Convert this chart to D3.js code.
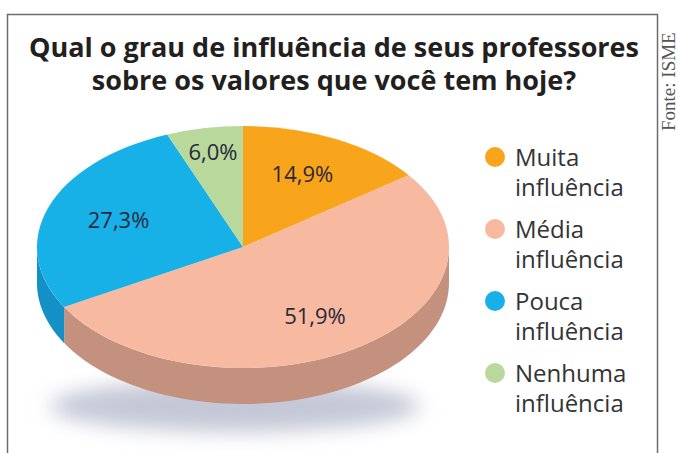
<!DOCTYPE html>
<html lang="pt">
<head>
    <meta charset="UTF-8">
    <title>Influência dos professores</title>
    <script src="https://cdn.jsdelivr.net/npm/d3@7"></script>
    <style>
        body { margin: 0; background: #fff; }
    </style>
</head>
<body>
<script>
    // dados
    const categorias = ['Muita influência', 'Média influência', 'Pouca influência', 'Nenhuma influência'];
    const valores = [14.9, 51.9, 27.3, 6.0];
    const coresTopo = ['#f9a51c', '#f8b9a1', '#17b1e8', '#b8d89c'];
    const coresLado = ['#d98c10', '#c4917f', '#1590c6', '#95b57c'];
    const titulo = ['Qual o grau de influência de seus professores', 'sobre os valores que você tem hoje?'];
    const fonte = 'Fonte: ISME';

    const width = 678, height = 453;
    const cx = 243, cy = 247, rx = 206, ry = 121, depth = 36;

    const ptBR = d3.formatLocale({decimal: ',', thousands: '.', grouping: [3], currency: ['R$', '']});
    const fmt = v => ptBR.format('.1f')(v) + '%';

    const corTopo = d3.scaleOrdinal().domain(categorias).range(coresTopo);
    const corLado = d3.scaleOrdinal().domain(categorias).range(coresLado);

    const svg = d3.select('body').append('svg')
        .attr('width', width)
        .attr('height', height);

    const defs = svg.append('defs');
    defs.append('filter').attr('id', 'sombra')
        .attr('x', '-50%').attr('y', '-100%').attr('width', '200%').attr('height', '300%')
        .append('feGaussianBlur').attr('stdDeviation', 10);

    // moldura
    svg.append('rect')
        .attr('x', 7.5).attr('y', 14.5)
        .attr('width', 650).attr('height', 470)
        .attr('fill', 'none')
        .attr('stroke', '#6d6d6d')
        .attr('stroke-width', 1.5);

    // fonte (vertical)
    svg.append('text')
        .attr('transform', 'translate(675,131) rotate(-90)')
        .attr('font-family', '"Liberation Serif", serif')
        .attr('font-size', 19)
        .attr('fill', '#555')
        .text(fonte);

    // título
    svg.append('g')
        .attr('font-family', '"Open Sans", sans-serif')
        .attr('font-weight', 700)
        .attr('font-size', 27)
        .attr('fill', '#231f20')
        .attr('text-anchor', 'middle')
        .selectAll('text')
        .data(titulo)
        .join('text')
        .attr('x', 334)
        .attr('y', (d, i) => 57 + i * 33)
        .text(d => d);

    const pie = d3.pie().sort(null).value(d => d.v);
    const arcs = pie(categorias.map((c, i) => ({c, v: valores[i]})));

    // sombra
    svg.append('ellipse')
        .attr('cx', cx - 8).attr('cy', cy + ry + depth + 2)
        .attr('rx', rx * 0.9).attr('ry', 26)
        .attr('fill', '#c4c8d6')
        .attr('filter', 'url(#sombra)');

    const px = a => cx + rx * Math.sin(a);
    const py = a => cy - ry * Math.cos(a);

    // laterais (metade da frente: de PI/2 a 3PI/2)
    const lados = svg.append('g');
    arcs.forEach(d => {
        const a0 = Math.max(d.startAngle, Math.PI / 2);
        const a1 = Math.min(d.endAngle, Math.PI * 3 / 2);
        if (a1 <= a0) return;
        const n = 60;
        const p = d3.path();
        const topo = d3.range(n + 1).map(i => a0 + (a1 - a0) * i / n);
        topo.forEach((a, i) => i ? p.lineTo(px(a), py(a)) : p.moveTo(px(a), py(a)));
        topo.slice().reverse().forEach(a => p.lineTo(px(a), py(a) + depth));
        p.closePath();
        lados.append('path')
            .attr('d', p.toString())
            .attr('fill', corLado(d.data.c));
    });

    // topo
    const arc = d3.arc().innerRadius(0).outerRadius(rx);
    svg.append('g')
        .attr('transform', `translate(${cx},${cy}) scale(1,${ry / rx})`)
        .selectAll('path')
        .data(arcs)
        .join('path')
        .attr('d', arc)
        .attr('fill', d => corTopo(d.data.c));

    // rótulos
    svg.append('g')
        .attr('font-family', '"Open Sans", sans-serif')
        .attr('font-size', 22)
        .attr('fill', '#2a2838')
        .attr('text-anchor', 'middle')
        .selectAll('text')
        .data(arcs)
        .join('text')
        .attr('x', d => {
            const m = (d.startAngle + d.endAngle) / 2, k = d.data.v < 10 ? 0.78 : 0.64;
            return cx + rx * k * Math.sin(m);
        })
        .attr('y', d => {
            const m = (d.startAngle + d.endAngle) / 2, k = d.data.v < 10 ? 0.8 : 0.68;
            return cy - ry * k * Math.cos(m) + 8;
        })
        .text(d => fmt(d.data.v));

    // legenda
    const leg = svg.append('g')
        .attr('font-family', '"Open Sans", sans-serif')
        .attr('font-size', 24)
        .attr('fill', '#333')
        .selectAll('g')
        .data(categorias)
        .join('g')
        .attr('transform', (d, i) => `translate(495,${157 + i * 72})`);

    leg.append('circle')
        .attr('r', 10)
        .attr('fill', d => corTopo(d));

    leg.append('text')
        .selectAll('tspan')
        .data(d => d.split(' '))
        .join('tspan')
        .attr('x', 20)
        .attr('y', (d, i) => 9 + i * 30)
        .text(d => d);
</script>
</body>
</html>
